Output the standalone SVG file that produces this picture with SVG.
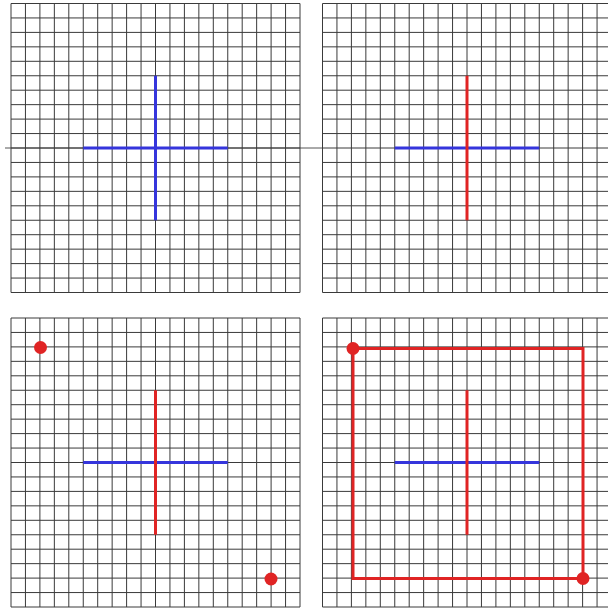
<svg xmlns="http://www.w3.org/2000/svg" xmlns:xlink="http://www.w3.org/1999/xlink" width="608" height="610" viewBox="0 0 608 610">
<style>
.grid{fill:none;stroke:#3a3a3a;stroke-width:1}
.axis{stroke:#555;stroke-width:1;fill:none}
.blue{stroke:#3535dc;stroke-width:3;fill:none}
.red{stroke:#e02424;stroke-width:3;fill:none}
.dot{fill:#e02424}
</style>
<defs>
<path id="g" class="grid" d="M0 0V289M14.45 0V289M28.9 0V289M43.35 0V289M57.8 0V289M72.25 0V289M86.7 0V289M101.15 0V289M115.6 0V289M130.05 0V289M144.5 0V289M158.95 0V289M173.4 0V289M187.85 0V289M202.3 0V289M216.75 0V289M231.2 0V289M245.65 0V289M260.1 0V289M274.55 0V289M289 0V289M0 0H289M0 14.45H289M0 28.9H289M0 43.35H289M0 57.8H289M0 72.25H289M0 86.7H289M0 101.15H289M0 115.6H289M0 130.05H289M0 144.5H289M0 158.95H289M0 173.4H289M0 187.85H289M0 202.3H289M0 216.75H289M0 231.2H289M0 245.65H289M0 260.1H289M0 274.55H289M0 289H289"/>
</defs>
<rect width="608" height="610" fill="#fff"/>
<g id="connectors">
<line class="axis" x1="5" y1="148" x2="323" y2="148"/>
</g>
<g id="panel1" transform="translate(11,3.5)">
<use xlink:href="#g"/>
<line class="blue" x1="72.25" y1="144.5" x2="216.75" y2="144.5"/>
<line class="blue" x1="144.5" y1="72.25" x2="144.5" y2="216.75"/>
</g>
<g id="panel2" transform="translate(322.5,3.5)">
<use xlink:href="#g"/>
<line class="blue" x1="72.25" y1="144.5" x2="216.75" y2="144.5"/>
<line class="red" x1="144.5" y1="72.25" x2="144.5" y2="216.75"/>
</g>
<g id="panel3" transform="translate(11,318)">
<use xlink:href="#g"/>
<line class="blue" x1="72.25" y1="144.5" x2="216.75" y2="144.5"/>
<line class="red" x1="144.5" y1="72.25" x2="144.5" y2="216.75"/>
<circle class="dot" cx="29.5" cy="29.5" r="6.5"/>
<circle class="dot" cx="260" cy="261" r="6.5"/>
</g>
<g id="panel4" transform="translate(322.5,318)">
<use xlink:href="#g"/>
<line class="blue" x1="72.25" y1="144.5" x2="216.75" y2="144.5"/>
<line class="red" x1="144.5" y1="72.25" x2="144.5" y2="216.75"/>
<rect class="red" x="30.5" y="30.5" width="230" height="230"/>
<circle class="dot" cx="30.5" cy="30.5" r="6.5"/>
<circle class="dot" cx="260.5" cy="260.5" r="6.5"/>
</g>
</svg>
